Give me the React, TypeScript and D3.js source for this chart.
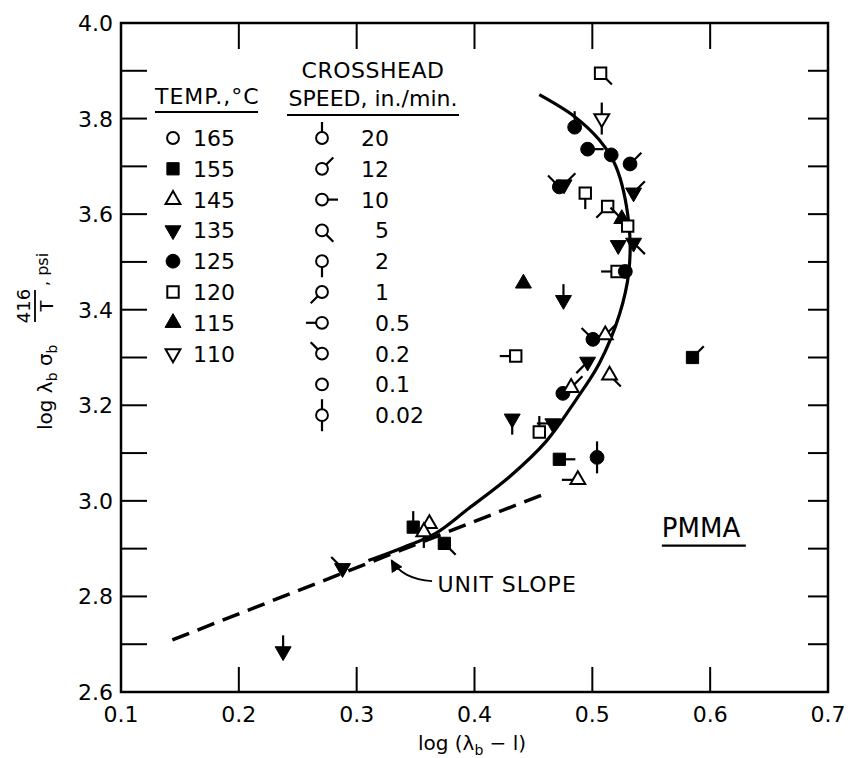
import React, { useEffect, useRef } from "react";
import * as d3 from "d3";

// temperature codes (deg C) and crosshead speeds (in./min)
const temps = [165, 155, 145, 135, 125, 120, 115, 110];
const speeds = ["20", "12", "10", "5", "2", "1", "0.5", "0.2", "0.1", "0.02"];

// measured points
const ptX = [0.507, 0.508, 0.485, 0.496, 0.516, 0.472, 0.476, 0.494, 0.513, 0.532, 0.535, 0.525, 0.530, 0.522, 0.535, 0.521, 0.528,
  0.4415, 0.4755, 0.435, 0.5005, 0.511, 0.496, 0.5146, 0.475, 0.482, 0.432, 0.455, 0.4665, 0.472, 0.504, 0.4877,
  0.348, 0.3617, 0.357, 0.3744, 0.288, 0.2376, 0.585];
const ptY = [3.895, 3.80, 3.782, 3.736, 3.724, 3.657, 3.662, 3.644, 3.616, 3.705, 3.645, 3.59, 3.575, 3.535, 3.54, 3.48, 3.48,
  3.455, 3.42, 3.303, 3.338, 3.347, 3.291, 3.263, 3.225, 3.237, 3.172, 3.144, 3.162, 3.087, 3.091, 3.044,
  2.945, 2.952, 2.935, 2.911, 2.859, 2.685, 3.30];
const ptTemp = [120, 110, 125, 125, 125, 125, 135, 120, 120, 125, 135, 115, 120, 135, 135, 120, 125,
  115, 135, 120, 125, 145, 135, 145, 125, 145, 135, 120, 135, 155, 125, 145,
  155, 145, 145, 155, 135, 135, 155];
const ptSpeed = ["5", "0.02", "20", "10", "0.1", "0.2", "12", "2", "1", "12", "12", "0.2", "0.1", "0.1", "5", "0.5", "0.1",
  "0.1", "20", "0.5", "0.2", "12", "1", "5", "0.1", "12", "2", "20", "0.5", "10", "0.02", "0.5",
  "20", "0.1", "2", "5", "0.2", "20", "12"];

// fitted master curve and unit slope line
const curveX = [0.31, 0.34, 0.367, 0.395, 0.43, 0.461, 0.486, 0.506, 0.523, 0.531, 0.531, 0.52, 0.506, 0.485, 0.455];
const curveY = [2.875, 2.903, 2.932, 2.984, 3.051, 3.125, 3.211, 3.288, 3.39, 3.48, 3.58, 3.70, 3.755, 3.804, 3.85];
const slopeX = [0.1436, 0.461];
const slopeY = [2.709, 3.016];

const xTickLabels = ["0.1", "0.2", "0.3", "0.4", "0.5", "0.6", "0.7"];
const yTickLabels = ["2.6", "2.8", "3.0", "3.2", "3.4", "3.6", "3.8", "4.0"];

const FONT = "DejaVu Sans, sans-serif";

function shapeOf(t: number) {
  const m: any = {
    165: { sym: d3.symbolCircle, fill: false, rot: 0, size: 110 },
    155: { sym: d3.symbolSquare, fill: true, rot: 0, size: 150 },
    145: { sym: d3.symbolTriangle, fill: false, rot: 0, size: 95 },
    135: { sym: d3.symbolTriangle, fill: true, rot: 180, size: 110 },
    125: { sym: d3.symbolCircle, fill: true, rot: 0, size: 150 },
    120: { sym: d3.symbolSquare, fill: false, rot: 0, size: 130 },
    115: { sym: d3.symbolTriangle, fill: true, rot: 0, size: 110 },
    110: { sym: d3.symbolTriangle, fill: false, rot: 180, size: 95 },
  };
  return m[t];
}

// direction of the speed flag, degrees clockwise from up
const flagAngles: any = { "20": [0], "12": [45], "10": [90], "5": [135], "2": [180], "1": [225], "0.5": [270], "0.2": [315], "0.1": [], "0.02": [0, 180] };

function drawMarker(g: any, cx: number, cy: number, temp: number, speed: string) {
  const s = shapeOf(temp);
  const mg = g.append("g").attr("transform", `translate(${cx},${cy})`);
  flagAngles[speed].forEach((a: number) => {
    const r = (a * Math.PI) / 180;
    mg.append("line")
      .attr("x1", 0).attr("y1", 0)
      .attr("x2", 16 * Math.sin(r)).attr("y2", -16 * Math.cos(r))
      .attr("stroke", "#000").attr("stroke-width", 2.2);
  });
  mg.append("path")
    .attr("d", d3.symbol().type(s.sym).size(s.size)())
    .attr("transform", `rotate(${s.rot})`)
    .attr("fill", s.fill ? "#000" : "#fff")
    .attr("stroke", "#000")
    .attr("stroke-width", s.fill ? 1 : 2);
}

export default function App() {
  const ref = useRef<SVGSVGElement>(null);

  useEffect(() => {
    const svg = d3.select(ref.current);
    svg.selectAll("*").remove();

    const x = d3.scaleLinear().domain([0.1, 0.7]).range([121, 828]);
    const y = d3.scaleLinear().domain([2.6, 4.0]).range([692, 23]);

    const g = svg.append("g");

    // ticks (inward)
    const yMinor = d3.range(27, 40).map((v) => v / 10);
    const xInner = [0.2, 0.3, 0.4, 0.5, 0.6];
    g.selectAll(".lt").data(yMinor).join("line")
      .attr("x1", x(0.1)).attr("x2", x(0.1) + 26)
      .attr("y1", (d) => y(d)).attr("y2", (d) => y(d))
      .attr("stroke", "#000").attr("stroke-width", 2);
    g.selectAll(".rt").data(yMinor).join("line")
      .attr("x1", x(0.7)).attr("x2", x(0.7) - 20)
      .attr("y1", (d) => y(d)).attr("y2", (d) => y(d))
      .attr("stroke", "#000").attr("stroke-width", 2);
    g.selectAll(".bt").data(xInner).join("line")
      .attr("x1", (d) => x(d)).attr("x2", (d) => x(d))
      .attr("y1", y(2.6)).attr("y2", y(2.6) - 25)
      .attr("stroke", "#000").attr("stroke-width", 2);
    g.selectAll(".tt").data(xInner).join("line")
      .attr("x1", (d) => x(d)).attr("x2", (d) => x(d))
      .attr("y1", y(4.0)).attr("y2", y(4.0) + 26)
      .attr("stroke", "#000").attr("stroke-width", 2);

    g.append("rect")
      .attr("x", x(0.1)).attr("y", y(4.0))
      .attr("width", x(0.7) - x(0.1)).attr("height", y(2.6) - y(4.0))
      .attr("fill", "none").attr("stroke", "#000").attr("stroke-width", 2.5);

    g.selectAll(".xl").data(xTickLabels).join("text")
      .attr("x", (d) => x(+d)).attr("y", 722)
      .attr("text-anchor", "middle")
      .attr("font-family", FONT).attr("font-size", 22)
      .text((d) => d);
    g.selectAll(".yl").data(yTickLabels).join("text")
      .attr("x", x(0.1) - 8).attr("y", (d) => y(+d) + 8)
      .attr("text-anchor", "end")
      .attr("font-family", FONT).attr("font-size", 22)
      .text((d) => d);

    // x title
    const xt = g.append("text").attr("x", 472).attr("y", 750)
      .attr("text-anchor", "middle").attr("font-family", FONT).attr("font-size", 20);
    xt.append("tspan").text("log (λ");
    xt.append("tspan").attr("font-size", 14).attr("dy", 5).text("b");
    xt.append("tspan").attr("dy", -5).text(" − l)");

    // y title (rotated; +x runs up the page, -y runs left)
    const yt = g.append("g").attr("transform", "translate(52,318) rotate(-90)");
    const t1 = yt.append("text").attr("x", -112).attr("y", 0)
      .attr("font-family", FONT).attr("font-size", 20);
    t1.append("tspan").text("log λ");
    t1.append("tspan").attr("font-size", 14).attr("dy", 5).text("b");
    t1.append("tspan").attr("dy", -5).text(" σ");
    t1.append("tspan").attr("font-size", 14).attr("dy", 5).text("b");
    yt.append("text").attr("x", 12).attr("y", -22).attr("text-anchor", "middle")
      .attr("font-family", FONT).attr("font-size", 18).text("416");
    yt.append("line").attr("x1", -4).attr("x2", 28).attr("y1", -17).attr("y2", -17)
      .attr("stroke", "#000").attr("stroke-width", 1.8);
    yt.append("text").attr("x", 12).attr("y", 1).attr("text-anchor", "middle")
      .attr("font-family", FONT).attr("font-size", 18).text("T");
    yt.append("text").attr("x", 32).attr("y", -4)
      .attr("font-family", FONT).attr("font-size", 16).text(", psi");

    // unit slope (dashed) and master curve
    const slope = d3.line<number>().x((d, i) => x(slopeX[i])).y((d, i) => y(slopeY[i]));
    g.append("path").attr("d", slope(slopeX))
      .attr("fill", "none").attr("stroke", "#000").attr("stroke-width", 3.5)
      .attr("stroke-dasharray", "18 9");
    const curve = d3.line<number>().x((d, i) => x(curveX[i])).y((d, i) => y(curveY[i]))
      .curve(d3.curveCatmullRom.alpha(0.5));
    g.append("path").attr("d", curve(curveX))
      .attr("fill", "none").attr("stroke", "#000").attr("stroke-width", 3.2);

    // arrow annotation
    svg.append("defs").append("marker").attr("id", "ah")
      .attr("viewBox", "0 0 10 10").attr("refX", 9).attr("refY", 5)
      .attr("markerWidth", 7).attr("markerHeight", 7).attr("orient", "auto")
      .append("path").attr("d", "M0,0 L10,5 L0,10 z").attr("fill", "#000");
    const ax0 = x(0.364), ay0 = y(2.832), ax1 = x(0.327), ay1 = y(2.882);
    g.append("path")
      .attr("d", `M${ax0},${ay0} Q${ax1 + 14},${ay0 - 2} ${ax1 + 3},${ay1 + 3}`)
      .attr("fill", "none").attr("stroke", "#000").attr("stroke-width", 1.8)
      .attr("marker-end", "url(#ah)");
    g.append("text").attr("x", x(0.3685)).attr("y", y(2.81))
      .attr("font-family", FONT).attr("font-size", 22).attr("letter-spacing", 1).text("UNIT SLOPE");

    g.append("text").attr("x", x(0.559)).attr("y", y(2.925))
      .attr("font-family", FONT).attr("font-size", 26).text("PMMA");
    g.append("line").attr("x1", x(0.559)).attr("x2", x(0.559) + 84)
      .attr("y1", y(2.925) + 9).attr("y2", y(2.925) + 9)
      .attr("stroke", "#000").attr("stroke-width", 2.2);

    // points
    ptX.forEach((px, i) => drawMarker(g, x(px), y(ptY[i]), ptTemp[i], ptSpeed[i]));

    // legend
    const rowY = (i: number) => 138 + i * 30.8;
    g.append("text").attr("x", 155).attr("y", 104)
      .attr("font-family", FONT).attr("font-size", 22).attr("letter-spacing", 1).text("TEMP.,°C");
    g.append("line").attr("x1", 155).attr("x2", 258).attr("y1", 112).attr("y2", 112)
      .attr("stroke", "#000").attr("stroke-width", 2);
    g.append("text").attr("x", 373).attr("y", 78).attr("text-anchor", "middle")
      .attr("font-family", FONT).attr("font-size", 22).attr("letter-spacing", 0.5).text("CROSSHEAD");
    g.append("text").attr("x", 373).attr("y", 106).attr("text-anchor", "middle")
      .attr("font-family", FONT).attr("font-size", 22).text("SPEED, in./min.");
    g.append("line").attr("x1", 287).attr("x2", 459).attr("y1", 115).attr("y2", 115)
      .attr("stroke", "#000").attr("stroke-width", 2);

    temps.forEach((t, i) => {
      drawMarker(g, 173, rowY(i), t, "0.1");
      g.append("text").attr("x", 193).attr("y", rowY(i) + 8)
        .attr("font-family", FONT).attr("font-size", 22).text(String(t));
    });
    speeds.forEach((s, i) => {
      drawMarker(g, 322, rowY(i), 165, s);
      const parts = s.split(".");
      g.append("text").attr("x", 389).attr("y", rowY(i) + 8).attr("text-anchor", "end")
        .attr("font-family", FONT).attr("font-size", 22).text(parts[0]);
      if (parts.length > 1) {
        g.append("text").attr("x", 389).attr("y", rowY(i) + 8)
          .attr("font-family", FONT).attr("font-size", 22).text("." + parts[1]);
      }
    });
  }, []);

  return <svg ref={ref} width={852} height={758} style={{ display: "block", margin: "-8px 0 0 -8px" }} />;
}
